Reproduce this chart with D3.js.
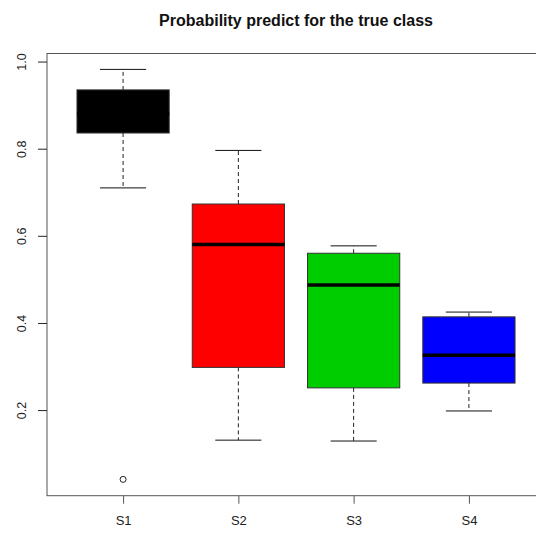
<!DOCTYPE html>
<html>
<head>
<meta charset="utf-8">
<script src="https://cdn.jsdelivr.net/npm/d3@7"></script>
<style>
  html, body { margin: 0; padding: 0; background: #fff; }
  svg { display: block; font-family: "Liberation Sans", Arial, sans-serif; }
</style>
</head>
<body>
<svg id="chart" width="536" height="536"></svg>
<script>
// Box plot statistics per sample
const categories = ["S1", "S2", "S3", "S4"];
const whiskerLow  = [0.710, 0.131, 0.129, 0.198];
const q1          = [0.836, 0.298, 0.251, 0.262];
const medians     = [0.880, 0.580, 0.487, 0.326];
const q3          = [0.935, 0.673, 0.560, 0.414];
const whiskerHigh = [0.982, 0.796, 0.577, 0.425];
const outliers    = [[0.041], [], [], []];
const fills       = ["#000000", "#FF0000", "#00CD00", "#0000FF"];
const yTicks      = [0.2, 0.4, 0.6, 0.8, 1.0];
const title       = "Probability predict for the true class";

const svg = d3.select("#chart");

// Plot region (R-style extended limits)
const x = d3.scaleLinear().domain([0.34, 4.66]).range([47, 545]);
const y = d3.scaleLinear().domain([0.0035, 1.0185]).range([495.7, 53.5]);

const boxHalf = 0.4;     // boxwex 0.8
const stapleHalf = 0.2;  // staple half width

// Title, centred over the plot region
svg.append("text")
  .attr("x", (x.range()[0] + x.range()[1]) / 2).attr("y", 25.5)
  .attr("text-anchor", "middle")
  .attr("font-size", 16).attr("font-weight", "bold")
  .attr("fill", "#111")
  .text(title);

const g = svg.append("g");

categories.forEach((c, i) => {
  const cx = x(i + 1);
  const gi = g.append("g");
  // whiskers (dashed)
  gi.append("line")
    .attr("x1", cx).attr("x2", cx)
    .attr("y1", y(q3[i])).attr("y2", y(whiskerHigh[i]))
    .attr("stroke", "#222").attr("stroke-width", 1).attr("stroke-dasharray", "4,3");
  gi.append("line")
    .attr("x1", cx).attr("x2", cx)
    .attr("y1", y(q1[i])).attr("y2", y(whiskerLow[i]))
    .attr("stroke", "#222").attr("stroke-width", 1).attr("stroke-dasharray", "4,3");
  // staples
  [whiskerLow[i], whiskerHigh[i]].forEach(v => {
    gi.append("line")
      .attr("x1", x(i + 1 - stapleHalf)).attr("x2", x(i + 1 + stapleHalf))
      .attr("y1", y(v)).attr("y2", y(v))
      .attr("stroke", "#111").attr("stroke-width", 1);
  });
  // box
  gi.append("rect")
    .attr("x", x(i + 1 - boxHalf))
    .attr("y", y(q3[i]))
    .attr("width", x(i + 1 + boxHalf) - x(i + 1 - boxHalf))
    .attr("height", y(q1[i]) - y(q3[i]))
    .attr("fill", fills[i])
    .attr("stroke", "#333").attr("stroke-width", 1);
  // median
  gi.append("line")
    .attr("x1", x(i + 1 - boxHalf)).attr("x2", x(i + 1 + boxHalf))
    .attr("y1", y(medians[i])).attr("y2", y(medians[i]))
    .attr("stroke", "#000").attr("stroke-width", 3.5);
  // outliers
  outliers[i].forEach(v => {
    gi.append("circle")
      .attr("cx", cx).attr("cy", y(v)).attr("r", 3)
      .attr("fill", "none").attr("stroke", "#222").attr("stroke-width", 1);
  });
});

// Frame
svg.append("rect")
  .attr("x", x.range()[0]).attr("y", y.range()[1])
  .attr("width", x.range()[1] - x.range()[0])
  .attr("height", y.range()[0] - y.range()[1])
  .attr("fill", "none").attr("stroke", "#555").attr("stroke-width", 1);

// Y axis with labels rotated parallel to the axis
const yAxis = d3.axisLeft(y).tickValues(yTicks).tickFormat(d3.format(".1f")).tickSize(9).tickPadding(0);
const yg = svg.append("g").attr("transform", `translate(${x.range()[0]},0)`).call(yAxis);
yg.select(".domain").remove();
yg.selectAll(".tick line").attr("stroke", "#222");
yg.selectAll(".tick text")
  .attr("font-size", 12.5).attr("fill", "#222").attr("font-family", "Liberation Sans, Arial, sans-serif")
  .attr("text-anchor", "middle").attr("dy", null)
  .attr("x", null)
  .attr("transform", "translate(-21.5,0) rotate(-90)");

// X axis
const xAxis = d3.axisBottom(x).tickValues(categories.map((c, i) => i + 1))
  .tickFormat((d) => categories[d - 1]).tickSize(8).tickPadding(12);
const xg = svg.append("g").attr("transform", `translate(0,${y.range()[0]})`).call(xAxis);
xg.select(".domain").remove();
xg.selectAll(".tick line").attr("stroke", "#555");
xg.selectAll(".tick text")
  .attr("font-size", 13).attr("fill", "#222")
  .attr("font-family", "Liberation Sans, Arial, sans-serif");
</script>
</body>
</html>
